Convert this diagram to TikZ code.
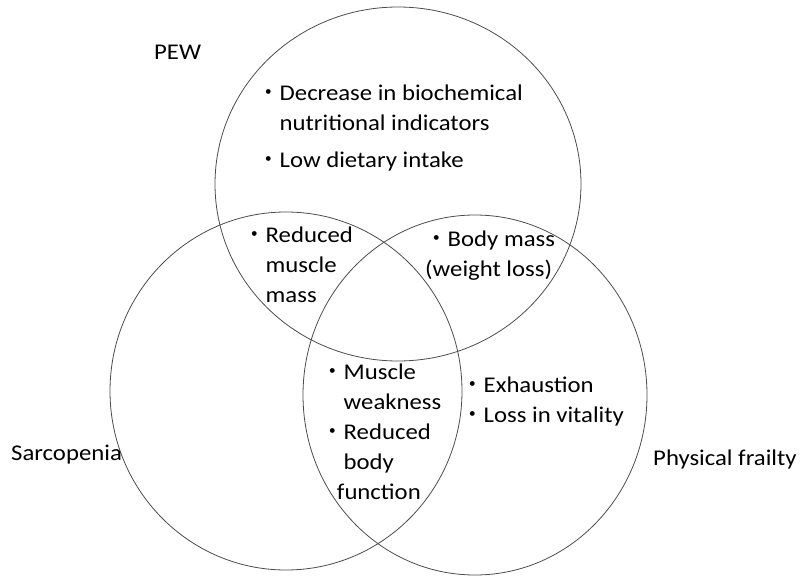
\documentclass[tikz,border=0pt]{standalone}
\usepackage{fontspec}
\setmainfont{Carlito}[FakeStretch=1.1]
\newfontfamily\cjk{Noto Sans CJK JP}
\newcommand{\bul}{{\cjk ・}}

\begin{document}
\begin{tikzpicture}[x=1pt, y=-1pt,
    ring/.style={draw=black!70, line width=0.8pt},
    txt/.style={anchor=west, inner sep=0pt, align=left,
      font=\fontsize{22.5}{30}\selectfont}]
  \useasboundingbox (0,0) rectangle (802,577);
  % the three circles
  \draw[ring] (398,184) ellipse [x radius=183, y radius=177];
  \draw[ring] (286,391) ellipse [x radius=176, y radius=179];
  \draw[ring] (475,395) ellipse [x radius=172, y radius=180];
  % names of the sets
  \node[txt] (pew) at (154,52) {PEW};
  \node[txt] (sarco) at (11,455) {Sarcopenia};
  \node[txt] (frail) at (653,459) {Physical frailty};
  % PEW only
  \node[txt] (biochem) at (257,108) {\bul Decrease in biochemical\\\hspace{1em}nutritional indicators};
  \node[txt] (intake) at (257,162) {\bul Low dietary intake};
  % overlaps
  \node[txt] (muscmass) at (243,265) {\bul Reduced\\\hspace{1em}muscle\\\hspace{1em}mass};
  \node[txt] (bodymass) at (425,256) {\bul Body mass\\(weight loss)};
  \node[txt] (weak) at (321,432) {\bul Muscle\\\hspace{1em}weakness\\\bul Reduced\\\hspace{1em}body\\\hspace{0.7em}function};
  % physical frailty only
  \node[txt] (exhaust) at (461,401) {\bul Exhaustion\\\bul Loss in vitality};
\end{tikzpicture}
\end{document}
